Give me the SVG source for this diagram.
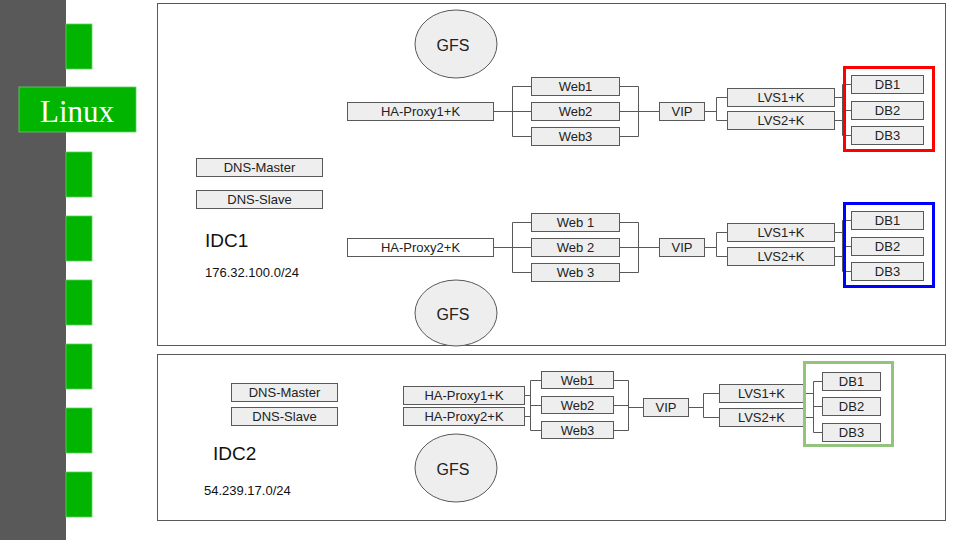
<svg xmlns="http://www.w3.org/2000/svg" width="960" height="540" viewBox="0 0 960 540">
<style>
.bx{fill:#eeeeee;stroke:#595959;stroke-width:1}
.wb{fill:#ffffff;stroke:#595959;stroke-width:1}
.t{font-family:"Liberation Sans",Arial,sans-serif;font-size:13px;fill:#222;text-anchor:middle;dominant-baseline:central}
.g{font-family:"Liberation Sans",Arial,sans-serif;font-size:16px;fill:#222;text-anchor:middle;dominant-baseline:central}
.frame{fill:none;stroke:#595959;stroke-width:1}
.ln{fill:none;stroke:#595959;stroke-width:1}
.sq{fill:#00b400;stroke:#5fd35f;stroke-width:0.8}
.ell{fill:#eeeeee;stroke:#595959;stroke-width:1}
.sub{font-family:"Liberation Sans",Arial,sans-serif;font-size:13px;fill:#111;dominant-baseline:central}
.idc{font-family:"Liberation Sans",Arial,sans-serif;font-size:19px;fill:#111;dominant-baseline:central}
</style>
<rect width="960" height="540" fill="#ffffff"/>
<g id="sidebar">
<rect x="0" y="0" width="66" height="540" fill="#595959"/>
<rect class="sq" x="66" y="24" width="26" height="45"/>
<rect class="sq" x="66" y="152" width="26" height="45"/>
<rect class="sq" x="66" y="216" width="26" height="45"/>
<rect class="sq" x="66" y="280" width="26" height="45"/>
<rect class="sq" x="66" y="344" width="26" height="45"/>
<rect class="sq" x="66" y="408" width="26" height="45"/>
<rect class="sq" x="66" y="472" width="26" height="45"/>
</g>
<g id="linux">
<rect x="19" y="87" width="117" height="45" fill="#00b400" stroke="#5fd35f" stroke-width="0.8"/>
<text x="77" y="111" font-family="'Liberation Serif','Times New Roman',serif" font-size="31" fill="#ffffff" text-anchor="middle" dominant-baseline="central">Linux</text>
</g>
<g id="idc1-frame"><rect class="frame" x="157.5" y="3.5" width="788" height="342"/></g>
<g id="idc2-frame"><rect class="frame" x="157.5" y="354.5" width="788" height="166"/></g>

<g id="connectors">
<path class="ln" d="M494 111.5H512.5M512.5 86.5V136.5M512.5 86.5H531M512.5 111.5H531M512.5 136.5H531"/>
<path class="ln" d="M619 86.5H638.5M619 111.5H638.5M619 136.5H638.5M638.5 86.5V136.5M638.5 111.5H659"/>
<path class="ln" d="M704 111.5H716.5M716.5 97.5V120.5M716.5 97.5H727M716.5 120.5H727"/>
<path class="ln" d="M834 97.5H842.5M834 120.5H842.5M842.5 84.5V135.5M842.5 84.5H851M842.5 110.5H851M842.5 135.5H851"/>
<path class="ln" d="M494 247.5H512.5M512.5 222.5V272.5M512.5 222.5H531M512.5 247.5H531M512.5 272.5H531"/>
<path class="ln" d="M619 222.5H638.5M619 247.5H638.5M619 272.5H638.5M638.5 222.5V272.5M638.5 247.5H659"/>
<path class="ln" d="M704 247.5H716.5M716.5 232.5V256.5M716.5 232.5H727M716.5 256.5H727"/>
<path class="ln" d="M834 232.5H842.5M834 256.5H842.5M842.5 220.5V271.5M842.5 220.5H851M842.5 246.5H851M842.5 271.5H851"/>
<path class="ln" d="M525 395.5H530.5M525 416.5H530.5M530.5 380.5V430.5M530.5 380.5H541M530.5 405.5H541M530.5 430.5H541"/>
<path class="ln" d="M614 380.5H628.5M614 405.5H628.5M614 430.5H628.5M628.5 380.5V430.5M628.5 407.5H643"/>
<path class="ln" d="M689 407.5H703.5M703.5 393.5V417.5M703.5 393.5H719M703.5 417.5H719"/>
<path class="ln" d="M804 393.5H813.5M804 417.5H813.5M813.5 381.5V432.5M813.5 381.5H822M813.5 406.5H822M813.5 432.5H822"/>
</g>

<g id="gfs1"><ellipse class="ell" cx="456" cy="44" rx="41" ry="34"/><text class="g" x="453" y="45">GFS</text></g>
<g id="gfs2"><ellipse class="ell" cx="456" cy="313" rx="41" ry="33"/><text class="g" x="453" y="314">GFS</text></g>
<g id="dns-master-1"><rect class="bx" x="196.5" y="158.5" width="126" height="18"/><text class="t" x="259.5" y="167.5">DNS-Master</text></g>
<g id="dns-slave-1"><rect class="bx" x="196.5" y="190.5" width="126" height="18"/><text class="t" x="259.5" y="199.5">DNS-Slave</text></g>
<g id="idc1-label"><text class="idc" x="205" y="240">IDC1</text></g>
<g id="idc1-subnet"><text class="sub" x="205" y="272">176.32.100.0/24</text></g>

<g id="haproxy1-1"><rect class="bx" x="347.5" y="102.5" width="146" height="18"/><text class="t" x="420.5" y="111.5">HA-Proxy1+K</text></g>
<g id="web1-1"><rect class="bx" x="531.5" y="77.5" width="88" height="18"/><text class="t" x="575.5" y="86.5">Web1</text></g>
<g id="web2-1"><rect class="bx" x="531.5" y="102.5" width="88" height="18"/><text class="t" x="575.5" y="111.5">Web2</text></g>
<g id="web3-1"><rect class="bx" x="531.5" y="127.5" width="88" height="18"/><text class="t" x="575.5" y="136.5">Web3</text></g>
<g id="vip-1"><rect class="bx" x="659.5" y="102.5" width="45" height="18"/><text class="t" x="682" y="111.5">VIP</text></g>
<g id="lvs1-1"><rect class="bx" x="727.5" y="88.5" width="107" height="18"/><text class="t" x="781" y="97.5">LVS1+K</text></g>
<g id="lvs2-1"><rect class="bx" x="727.5" y="111.5" width="107" height="18"/><text class="t" x="781" y="120.5">LVS2+K</text></g>
<g id="db1-1"><rect class="bx" x="851.5" y="75.5" width="72" height="18"/><text class="t" x="887.5" y="84.5">DB1</text></g>
<g id="db2-1"><rect class="bx" x="851.5" y="101.5" width="72" height="18"/><text class="t" x="887.5" y="110.5">DB2</text></g>
<g id="db3-1"><rect class="bx" x="851.5" y="126.5" width="72" height="18"/><text class="t" x="887.5" y="135.5">DB3</text></g>
<g id="db-group-red"><rect x="844.5" y="67.5" width="89" height="83" fill="none" stroke="#ff0000" stroke-width="3"/></g>

<g id="haproxy2-1"><rect class="wb" x="347.5" y="238.5" width="146" height="18"/><text class="t" x="420.5" y="247.5">HA-Proxy2+K</text></g>
<g id="web1-2"><rect class="bx" x="531.5" y="213.5" width="88" height="18"/><text class="t" x="575.5" y="222.5">Web 1</text></g>
<g id="web2-2"><rect class="bx" x="531.5" y="238.5" width="88" height="18"/><text class="t" x="575.5" y="247.5">Web 2</text></g>
<g id="web3-2"><rect class="bx" x="531.5" y="263.5" width="88" height="18"/><text class="t" x="575.5" y="272.5">Web 3</text></g>
<g id="vip-2"><rect class="bx" x="659.5" y="238.5" width="45" height="18"/><text class="t" x="682" y="247.5">VIP</text></g>
<g id="lvs1-2"><rect class="bx" x="727.5" y="223.5" width="107" height="18"/><text class="t" x="781" y="232.5">LVS1+K</text></g>
<g id="lvs2-2"><rect class="bx" x="727.5" y="247.5" width="107" height="18"/><text class="t" x="781" y="256.5">LVS2+K</text></g>
<g id="db1-2"><rect class="bx" x="851.5" y="211.5" width="72" height="18"/><text class="t" x="887.5" y="220.5">DB1</text></g>
<g id="db2-2"><rect class="bx" x="851.5" y="237.5" width="72" height="18"/><text class="t" x="887.5" y="246.5">DB2</text></g>
<g id="db3-2"><rect class="bx" x="851.5" y="262.5" width="72" height="18"/><text class="t" x="887.5" y="271.5">DB3</text></g>
<g id="db-group-blue"><rect x="844.5" y="203.5" width="89" height="83" fill="none" stroke="#0000ff" stroke-width="3"/></g>

<g id="gfs3"><ellipse class="ell" cx="456" cy="468" rx="41" ry="34"/><text class="g" x="453" y="469">GFS</text></g>
<g id="dns-master-2"><rect class="bx" x="231.5" y="383.5" width="106" height="18"/><text class="t" x="284.5" y="392.5">DNS-Master</text></g>
<g id="dns-slave-2"><rect class="bx" x="231.5" y="407.5" width="106" height="18"/><text class="t" x="284.5" y="416.5">DNS-Slave</text></g>
<g id="idc2-label"><text class="idc" x="213" y="453">IDC2</text></g>
<g id="idc2-subnet"><text class="sub" x="204" y="490">54.239.17.0/24</text></g>

<g id="haproxy1-2"><rect class="bx" x="403.5" y="386.5" width="121" height="18"/><text class="t" x="464" y="395.5">HA-Proxy1+K</text></g>
<g id="haproxy2-2"><rect class="bx" x="403.5" y="407.5" width="121" height="18"/><text class="t" x="464" y="416.5">HA-Proxy2+K</text></g>
<g id="web1-3"><rect class="bx" x="541.5" y="371.5" width="72" height="17"/><text class="t" x="577.5" y="380">Web1</text></g>
<g id="web2-3"><rect class="bx" x="541.5" y="396.5" width="72" height="17"/><text class="t" x="577.5" y="405">Web2</text></g>
<g id="web3-3"><rect class="bx" x="541.5" y="421.5" width="72" height="17"/><text class="t" x="577.5" y="430">Web3</text></g>
<g id="vip-3"><rect class="bx" x="643.5" y="398.5" width="45" height="18"/><text class="t" x="666" y="407.5">VIP</text></g>
<g id="lvs1-3"><rect class="bx" x="719.5" y="384.5" width="84" height="18"/><text class="t" x="761.5" y="393.5">LVS1+K</text></g>
<g id="lvs2-3"><rect class="bx" x="719.5" y="408.5" width="84" height="18"/><text class="t" x="761.5" y="417.5">LVS2+K</text></g>
<g id="db1-3"><rect class="bx" x="822.5" y="372.5" width="58" height="18"/><text class="t" x="851.5" y="381.5">DB1</text></g>
<g id="db2-3"><rect class="bx" x="822.5" y="397.5" width="58" height="18"/><text class="t" x="851.5" y="406.5">DB2</text></g>
<g id="db3-3"><rect class="bx" x="822.5" y="423.5" width="58" height="18"/><text class="t" x="851.5" y="432.5">DB3</text></g>
<g id="db-group-green"><rect x="804.5" y="362.5" width="88" height="83" fill="none" stroke="#93c47d" stroke-width="3"/></g>
</svg>
